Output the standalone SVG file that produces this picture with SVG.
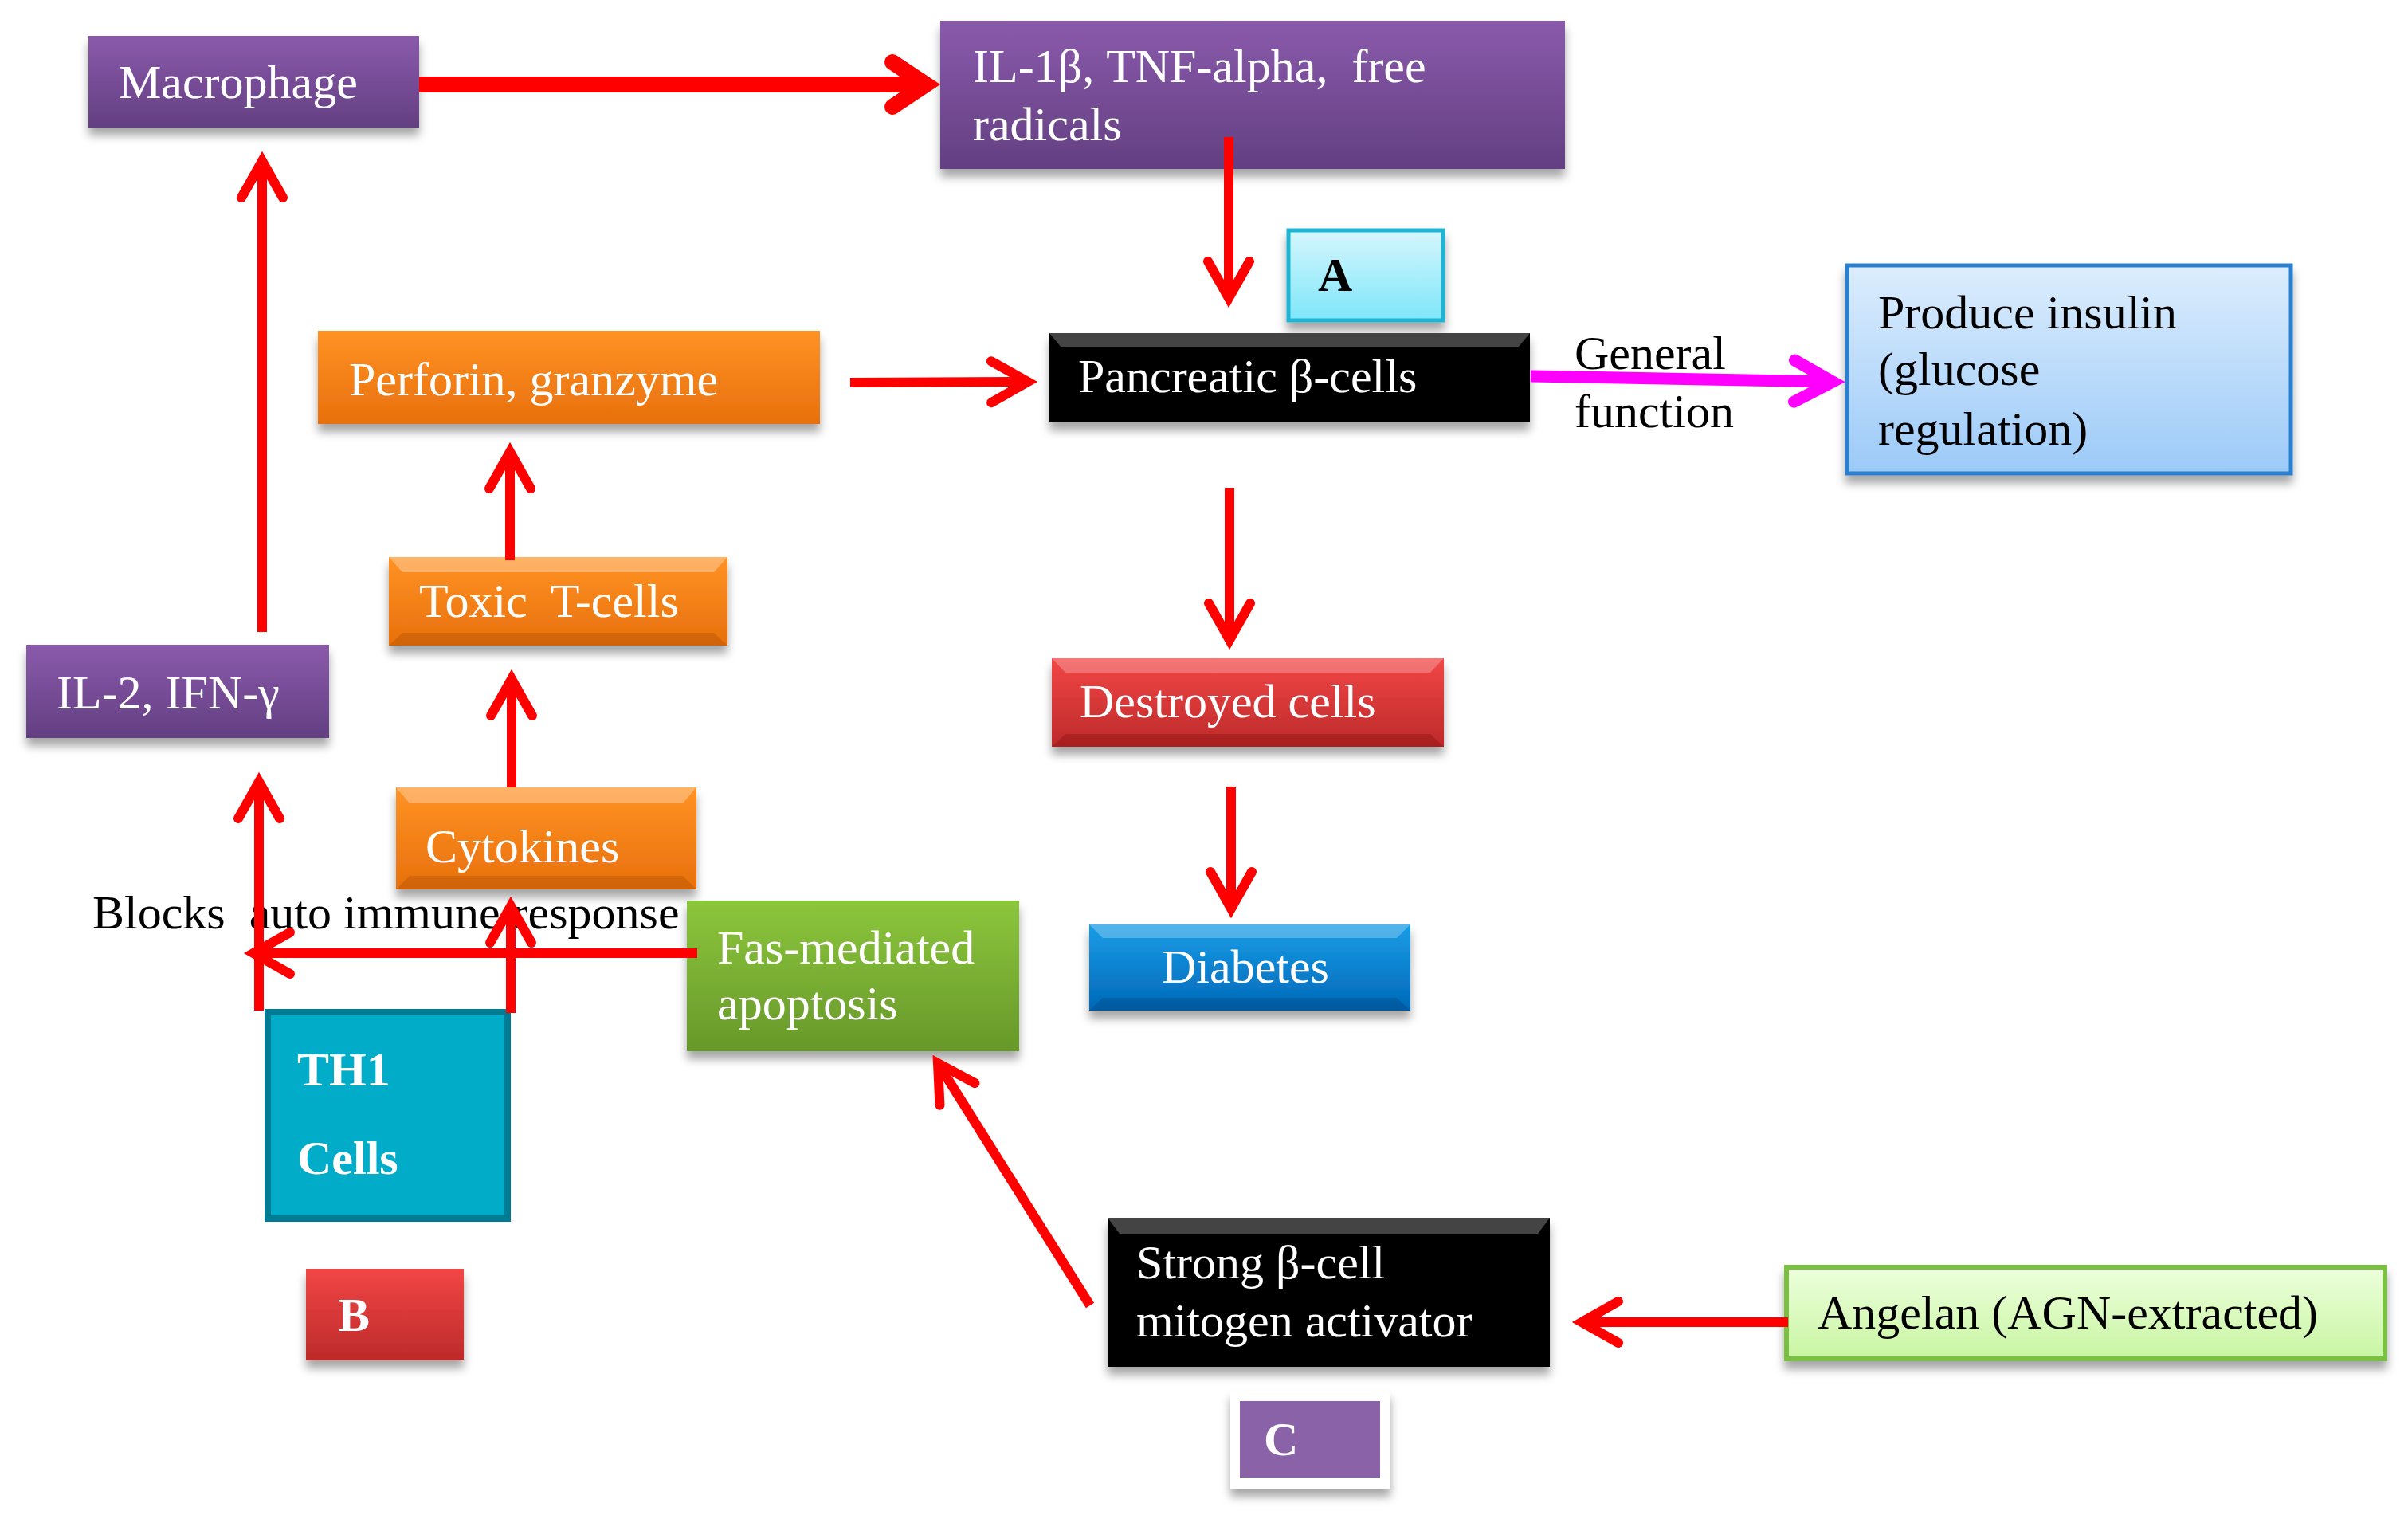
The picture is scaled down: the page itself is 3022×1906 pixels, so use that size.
<svg xmlns="http://www.w3.org/2000/svg" width="3022" height="1906" viewBox="0 0 3022 1906">
<style>
text{font-family:"Liberation Serif","Times New Roman",serif;font-size:60px;white-space:pre}
.w{fill:#fff}
.k{fill:#000}
.b{font-weight:bold}
.con{fill:none;stroke:#ff0000;stroke-width:12;stroke-linecap:butt}
</style>
<defs>
<filter id="sh" x="-10%" y="-20%" width="120%" height="160%">
<feDropShadow dx="0" dy="10" stdDeviation="6" flood-color="#000" flood-opacity="0.35"/>
</filter>
<linearGradient id="gPurple" x1="0" y1="0" x2="0" y2="1"><stop offset="0" stop-color="#8a5aab"/><stop offset="1" stop-color="#633f82"/></linearGradient>
<linearGradient id="gOrange" x1="0" y1="0" x2="0" y2="1"><stop offset="0" stop-color="#ff9224"/><stop offset="1" stop-color="#e8700c"/></linearGradient>
<linearGradient id="gRed" x1="0" y1="0" x2="0" y2="1"><stop offset="0" stop-color="#f24646"/><stop offset="1" stop-color="#bd2a2a"/></linearGradient>
<linearGradient id="gBlue" x1="0" y1="0" x2="0" y2="1"><stop offset="0" stop-color="#1a9de6"/><stop offset="1" stop-color="#0068b8"/></linearGradient>
<linearGradient id="gGreen" x1="0" y1="0" x2="0" y2="1"><stop offset="0" stop-color="#8cc63c"/><stop offset="1" stop-color="#67982a"/></linearGradient>
<linearGradient id="gCyan" x1="0" y1="0" x2="0" y2="1"><stop offset="0" stop-color="#d6f6fd"/><stop offset="1" stop-color="#7ee6fa"/></linearGradient>
<linearGradient id="gLBlue" x1="0" y1="0" x2="0" y2="1"><stop offset="0" stop-color="#dcedfd"/><stop offset="1" stop-color="#9ccaf8"/></linearGradient>
<linearGradient id="gLGreen" x1="0" y1="0" x2="0" y2="1"><stop offset="0" stop-color="#ecffdc"/><stop offset="1" stop-color="#c9f5a2"/></linearGradient>
<marker id="ah" markerUnits="userSpaceOnUse" viewBox="-70 -40 80 80" refX="0" refY="0" markerWidth="80" markerHeight="80" orient="auto" overflow="visible">
<path d="M-46,-26 L0,0 L-46,26" fill="none" stroke="#ff0000" stroke-width="12" stroke-linejoin="miter" stroke-linecap="round"/>
</marker>
<marker id="ahBig" markerUnits="userSpaceOnUse" viewBox="-70 -40 80 80" refX="0" refY="0" markerWidth="80" markerHeight="80" orient="auto" overflow="visible">
<path d="M-42,-28 L0,0 L-42,28" fill="none" stroke="#ff0000" stroke-width="20" stroke-linejoin="miter" stroke-linecap="round"/>
</marker>
<marker id="ahMag" markerUnits="userSpaceOnUse" viewBox="-70 -40 80 80" refX="0" refY="0" markerWidth="80" markerHeight="80" orient="auto" overflow="visible">
<path d="M-48,-26 L0,0 L-48,26" fill="none" stroke="#ff00ff" stroke-width="15" stroke-linejoin="miter" stroke-linecap="round"/>
</marker>
</defs>
<rect width="3022" height="1906" fill="#fff"/>

<g id="macrophage"><rect x="111" y="45" width="415" height="115" fill="url(#gPurple)" filter="url(#sh)"/><text class="w" x="149" y="123">Macrophage</text></g>
<g id="il1b"><rect x="1180" y="26" width="784" height="186" fill="url(#gPurple)" filter="url(#sh)"/><text class="w" x="1221" y="103">IL-1β, TNF-alpha,  free</text><text class="w" x="1221" y="176">radicals</text></g>
<g id="labelA"><rect x="1617" y="289" width="194" height="113" fill="url(#gCyan)" stroke="#1fb5d5" stroke-width="5" filter="url(#sh)"/><text class="k b" x="1654" y="365">A</text></g>
<g id="pancreatic"><rect x="1317" y="418" width="603" height="112" fill="#000" filter="url(#sh)"/><path d="M1317,418 H1920 L1905,436 H1332 Z" fill="#555" opacity="0.8"/><text class="w" x="1353" y="492">Pancreatic β-cells</text></g>
<g id="produce"><rect x="2318" y="333" width="557" height="261" fill="url(#gLBlue)" stroke="#2a80cf" stroke-width="5" filter="url(#sh)"/><text class="k" x="2357" y="412">Produce insulin</text><text class="k" x="2357" y="483">(glucose</text><text class="k" x="2357" y="558">regulation)</text></g>
<g id="perforin"><rect x="399" y="415" width="630" height="117" fill="url(#gOrange)" filter="url(#sh)"/><text class="w" x="438" y="496">Perforin, granzyme</text></g>
<g id="toxic"><rect x="488" y="699" width="425" height="111" fill="url(#gOrange)" filter="url(#sh)"/><path d="M488,699 H913 L896,718 H505 Z" fill="#fff" opacity="0.3"/><path d="M488,810 H913 L896,794 H505 Z" fill="#8a3a00" opacity="0.25"/><text class="w" x="526" y="774">Toxic  T-cells</text></g>
<g id="il2"><rect x="33" y="809" width="380" height="117" fill="url(#gPurple)" filter="url(#sh)"/><text class="w" x="71" y="889">IL-2, IFN-γ</text></g>
<g id="cytokines"><rect x="497" y="988" width="377" height="128" fill="url(#gOrange)" filter="url(#sh)"/><path d="M497,988 H874 L857,1008 H514 Z" fill="#fff" opacity="0.3"/><path d="M497,1116 H874 L857,1099 H514 Z" fill="#8a3a00" opacity="0.25"/><text class="w" x="534" y="1082">Cytokines</text></g>
<g id="th1"><rect x="336" y="1270" width="301" height="259" fill="#00acc8" stroke="#007b94" stroke-width="8"/><text class="w b" x="373" y="1362" font-size="58">TH1</text><text class="w b" x="373" y="1473" font-size="58">Cells</text></g>
<g id="fas"><rect x="862" y="1130" width="417" height="189" fill="url(#gGreen)" filter="url(#sh)"/><text class="w" x="900" y="1209">Fas-mediated</text><text class="w" x="900" y="1279">apoptosis</text></g>
<g id="labelB"><rect x="384" y="1592" width="198" height="115" fill="url(#gRed)" filter="url(#sh)"/><text class="w b" x="424" y="1670" font-size="56">B</text></g>
<g id="destroyed"><rect x="1320" y="826" width="492" height="111" fill="url(#gRed)" filter="url(#sh)"/><path d="M1320,826 H1812 L1795,844 H1337 Z" fill="#fff" opacity="0.25"/><path d="M1320,937 H1812 L1795,921 H1337 Z" fill="#600" opacity="0.25"/><text class="w" x="1355" y="900">Destroyed cells</text></g>
<g id="diabetes"><rect x="1367" y="1160" width="403" height="108" fill="url(#gBlue)" filter="url(#sh)"/><path d="M1367,1160 H1770 L1753,1177 H1384 Z" fill="#fff" opacity="0.25"/><path d="M1367,1268 H1770 L1753,1252 H1384 Z" fill="#003060" opacity="0.25"/><text class="w" x="1458" y="1233">Diabetes</text></g>
<g id="strong"><rect x="1390" y="1528" width="555" height="187" fill="#000" filter="url(#sh)"/><path d="M1390,1528 H1945 L1930,1548 H1405 Z" fill="#555" opacity="0.8"/><text class="w" x="1426" y="1604">Strong β-cell</text><text class="w" x="1426" y="1677">mitogen activator</text></g>
<g id="angelan"><rect x="2242" y="1590" width="751" height="115" fill="url(#gLGreen)" stroke="#7ac142" stroke-width="6" filter="url(#sh)"/><text class="k" x="2281" y="1667">Angelan (AGN-extracted)</text></g>
<g id="labelC"><rect x="1544" y="1745" width="201" height="123" fill="#fff" filter="url(#sh)"/><rect x="1556" y="1758" width="176" height="96" fill="#8a62a8"/><text class="w b" x="1586" y="1826" font-size="56">C</text></g>

<g id="labels">
<text class="k" x="1976" y="463">General</text>
<text class="k" x="1976" y="536">function</text>
<text class="k" x="116" y="1165">Blocks  auto immune response</text>
</g>

<g id="connectors">
<line x1="526" y1="106" x2="1162" y2="106" stroke="#ff0000" stroke-width="20" marker-end="url(#ahBig)"/>
<line class="con" x1="1542" y1="172" x2="1542" y2="374" marker-end="url(#ah)"/>
<line class="con" x1="1067" y1="480" x2="1290" y2="479" marker-end="url(#ah)"/>
<line class="con" x1="329" y1="793" x2="329" y2="202" marker-end="url(#ah)"/>
<line class="con" x1="640" y1="703" x2="640" y2="567" marker-end="url(#ah)"/>
<line class="con" x1="642" y1="988" x2="642" y2="852" marker-end="url(#ah)"/>
<line class="con" x1="325" y1="1268" x2="325" y2="981" marker-end="url(#ah)"/>
<line class="con" x1="641" y1="1271" x2="641" y2="1137" marker-end="url(#ah)"/>
<line class="con" x1="875" y1="1196" x2="318" y2="1196" marker-end="url(#ah)"/>
<line class="con" x1="1543" y1="612" x2="1543" y2="803" marker-end="url(#ah)"/>
<line class="con" x1="1545" y1="987" x2="1545" y2="1140" marker-end="url(#ah)"/>
<line class="con" x1="1368" y1="1638" x2="1177" y2="1334" marker-end="url(#ah)"/>
<line class="con" x1="2244" y1="1659" x2="1985" y2="1659" stroke-width="15" marker-end="url(#ah)"/>
<line x1="1921" y1="472" x2="2300" y2="479" stroke="#ff00ff" stroke-width="15" marker-end="url(#ahMag)"/>
</g>
</svg>
